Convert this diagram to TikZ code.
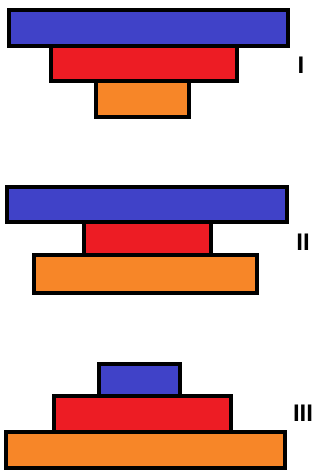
\documentclass[tikz,border=0pt]{standalone}
\usepackage{fontspec}
\setmainfont{Liberation Sans}
\definecolor{bblue}{RGB}{64,66,200}
\definecolor{bred}{RGB}{237,28,36}
\definecolor{borange}{RGB}{247,134,40}
\tikzset{
  blk/.style={draw=black, line width=4pt, inner sep=0pt, outer sep=0pt},
  lbl/.style={font=\fontsize{24}{24}\selectfont\bfseries, inner sep=0pt}
}
\begin{document}
\begin{tikzpicture}[x=1pt,y=-1pt]
\useasboundingbox[fill=white] (0,0) rectangle (320,471);
% I
\node[blk, fill=bblue, minimum width=279pt, minimum height=36pt] (b1) at (148.5,28) {};
\node[blk, fill=bred, minimum width=186pt, minimum height=35pt] (r1) at (144,63.5) {};
\node[blk, fill=borange, minimum width=93pt, minimum height=36pt] (o1) at (142.5,99) {};
\node[lbl] (l1) at (301,65) {I};
% II
\node[blk, fill=bblue, minimum width=280pt, minimum height=35pt] (b2) at (147,204.5) {};
\node[blk, fill=bred, minimum width=127pt, minimum height=33pt] (r2) at (147.5,238.5) {};
\node[blk, fill=borange, minimum width=223pt, minimum height=38pt] (o2) at (145.5,274) {};
\node[lbl] (l2) at (303,242) {II};
% III
\node[blk, fill=bblue, minimum width=81pt, minimum height=32pt] (b3) at (139.5,380) {};
\node[blk, fill=bred, minimum width=177pt, minimum height=36pt] (r3) at (142.5,414) {};
\node[blk, fill=borange, minimum width=279pt, minimum height=36pt] (o3) at (145.5,450) {};
\node[lbl] (l3) at (303,413) {III};
\end{tikzpicture}
\end{document}
